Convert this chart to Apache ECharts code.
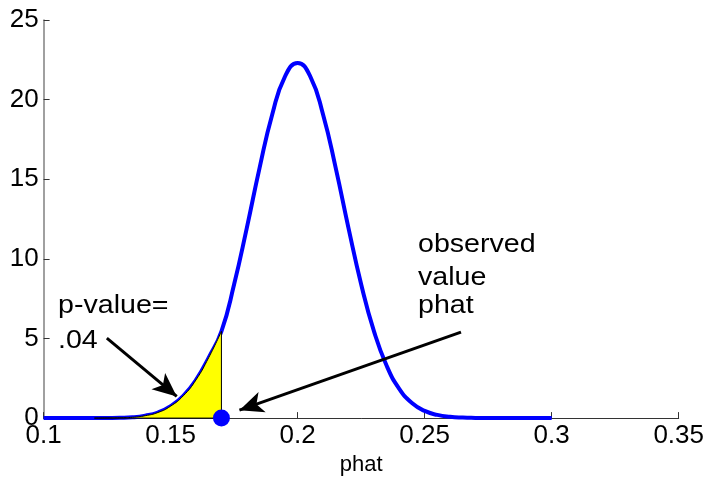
<!DOCTYPE html>
<html>
<head>
<meta charset="utf-8">
<script src="https://cdn.jsdelivr.net/npm/echarts@6/dist/echarts.min.js"></script>
<style>
html,body{margin:0;padding:0;background:#fff;}
#chart{width:707px;height:481px;}
</style>
</head>
<body>
<div id="chart"></div>
<script>
// ---- data ----
const xValues = [0.100,0.105,0.110,0.115,0.120,0.125,0.130,0.135,0.140,0.145,
                 0.150,0.155,0.160,0.165,0.170,0.175,0.180,0.185,0.190,0.195,
                 0.200,0.205,0.210,0.215,0.220,0.225,0.230,0.235,0.240,0.245,
                 0.250,0.255,0.260,0.265,0.270,0.275,0.280,0.285,0.290,0.295,0.300];
const density = [0,0,0,0,0,0.01,0.02,0.05,0.15,0.35,
                 0.75,1.40,2.40,3.80,5.45,8.40,11.95,15.70,19.07,21.45,
                 22.30,21.45,19.07,15.70,11.95,8.41,5.48,3.30,1.84,0.95,
                 0.45,0.20,0.08,0.03,0.01,0,0,0,0,0,0];
const fillStart = 0.12;
const observedPhat = 0.17;
const xTickMin = 0.1, xTickMax = 0.35, xTickStep = 0.05;
const yTickMin = 0, yTickMax = 25, yTickStep = 5;
const xAxisName = 'phat';
const pValueLines = ['p-value=', '.04'];
const observedLines = ['observed', 'value', 'phat'];
// arrows: [from point, to point] in data units
const arrowPValue = [[0.1249, 5.02], [0.1524, 1.36]];
const arrowObserved = [[0.2643, 5.40], [0.1771, 0.50]];

// ---- build ----
const curve = xValues.map((x, i) => [x, density[i]]);
const fillData = curve.filter(p => p[0] >= fillStart - 1e-9 && p[0] <= observedPhat + 1e-9);
const obsDensity = density[xValues.findIndex(x => Math.abs(x - observedPhat) < 1e-9)];
const fillEdge = [[observedPhat, obsDensity], [observedPhat, 0], [fillStart, 0]];

const FONT = 'Liberation Sans, Arial, sans-serif';

const chart = echarts.init(document.getElementById('chart'), null, {renderer: 'canvas'});

function textEl(str, left, top) {
  return {
    type: 'text', x: left, y: top, scaleX: 1.1, scaleY: 1, z: 100,
    style: {text: str, x: 0, y: 0, fill: '#000', font: '26px ' + FONT,
            fontSize: 26, fontFamily: FONT, align: 'left', verticalAlign: 'top', lineHeight: 26}
  };
}

const option = {
  animation: false,
  backgroundColor: '#fff',
  grid: {left: 43.6, right: 27, top: 20, bottom: 58, containLabel: false},
  xAxis: {
    type: 'value', min: xTickMin, max: xTickMax, interval: xTickStep,
    name: xAxisName, nameLocation: 'middle', nameGap: 31,
    nameTextStyle: {color: '#000', fontSize: 22, fontFamily: FONT},
    axisLine: {show: true, onZero: false, lineStyle: {color: '#333', width: 1}},
    axisTick: {show: true, inside: true, length: 6, lineStyle: {color: '#333', width: 1}},
    axisLabel: {color: '#000', fontSize: 26, fontFamily: FONT, margin: 5,
                showMinLabel: true, showMaxLabel: true,
                formatter: v => String(+v.toFixed(2))},
    splitLine: {show: false}
  },
  yAxis: {
    type: 'value', min: yTickMin, max: yTickMax, interval: yTickStep,
    axisLine: {show: true, onZero: false, lineStyle: {color: '#808080', width: 1.5}},
    axisTick: {show: true, inside: true, length: 6, lineStyle: {color: '#333', width: 1}},
    axisLabel: {color: '#000', fontSize: 26, fontFamily: FONT, margin: 5},
    splitLine: {show: false}
  },
  series: [
    {
      type: 'line', data: curve, smooth: true, symbol: 'none', clip: false, z: 2,
      lineStyle: {color: '#0000ff', width: 4}
    },
    {
      type: 'line', data: fillData, smooth: true, symbol: 'none', clip: false, z: 3,
      lineStyle: {color: '#000', width: 1},
      areaStyle: {color: '#ffff00', opacity: 1}
    },
    {
      type: 'line', data: fillEdge, symbol: 'none', clip: false, z: 4,
      lineStyle: {color: '#000', width: 1}
    },
    {
      type: 'scatter', data: [[observedPhat, 0]], symbol: 'circle', symbolSize: 17,
      clip: false, z: 6, itemStyle: {color: '#0000ff', opacity: 1},
      markLine: {
        silent: true, symbol: ['none', 'arrow'], symbolSize: [16, 24], z: 5,
        label: {show: false},
        lineStyle: {color: '#000', width: 3, type: 'solid', opacity: 1},
        data: [
          [{coord: arrowPValue[0]}, {coord: arrowPValue[1]}],
          [{coord: arrowObserved[0]}, {coord: arrowObserved[1]}]
        ]
      }
    }
  ],
  graphic: [
    textEl(pValueLines[0], 58, 293),
    textEl(pValueLines[1], 58, 328),
    textEl(observedLines[0], 418, 232),
    textEl(observedLines[1], 418, 264.5),
    textEl(observedLines[2], 418, 293)
  ]
};
chart.setOption(option);
</script>
</body>
</html>
